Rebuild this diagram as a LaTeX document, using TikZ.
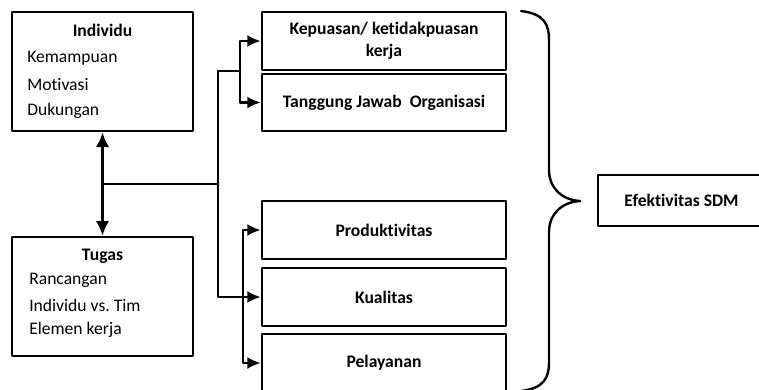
\documentclass[tikz,border=0pt]{standalone}
\usepackage{fontspec}
\setmainfont{Carlito}[Ligatures=NoCommon]
\usetikzlibrary{arrows.meta, positioning, calc}
\frenchspacing

\begin{document}
\begin{tikzpicture}[x=0.75pt, y=-0.75pt, line cap=round, line join=round,
    font=\fontsize{13.2}{16}\selectfont,
    kotak/.style={draw, line width=2pt, rectangle, inner sep=0pt, align=center, font=\fontsize{13.2}{16.5}\selectfont\bfseries},
    butir/.style={anchor=west, inner sep=0pt},
    garis/.style={line width=1.8pt},
    panah/.style={line width=1.8pt, -{Latex[length=10pt, width=9pt]}}]
      \clip (0,0) rectangle (759,389);

      % Kotak Individu
      \node[kotak, minimum width=181*0.75pt, minimum height=119*0.75pt] (individu) at (102.5,71.5) {};
      \node[font=\fontsize{13.2}{16}\selectfont\bfseries] (indhead) at (102.5,30) {Individu};
      \node[butir] (ind1) at (27,58) {Kemampuan};
      \node[butir] (ind2) at (27,85) {Motivasi};
      \node[butir] (ind3) at (27,111) {Dukungan};

      % Kotak Tugas
      \node[kotak, minimum width=181*0.75pt, minimum height=119*0.75pt] (tugas) at (102.5,296.5) {};
      \node[font=\fontsize{13.2}{16}\selectfont\bfseries] (tgshead) at (102.5,256) {Tugas};
      \node[butir] (tgs1) at (29,280) {Rancangan};
      \node[butir] (tgs2) at (29,305) {Individu vs. Tim};
      \node[butir] (tgs3) at (29,330) {Elemen kerja};

      % Kotak hasil
      \node[kotak, minimum width=244*0.75pt, minimum height=58*0.75pt] (kepuasan) at (384,41) {Kepuasan/ ketidakpuasan\\kerja};
      \node[kotak, minimum width=244*0.75pt, minimum height=57*0.75pt] (tanggung) at (384,102.5) {Tanggung Jawab\ \ Organisasi};
      \node[kotak, minimum width=244*0.75pt, minimum height=58*0.75pt] (produktif) at (384,230) {Produktivitas};
      \node[kotak, minimum width=244*0.75pt, minimum height=58*0.75pt] (kualitas) at (384,297) {Kualitas};
      \node[kotak, minimum width=244*0.75pt, minimum height=58*0.75pt] (pelayanan) at (384,363) {Pelayanan};

      % Efektivitas SDM
      \node[kotak, line width=1pt, minimum width=167*0.75pt, minimum height=51*0.75pt] (sdm) at (681.5,200.5) {Efektivitas SDM};

      % Titik cabang
      \coordinate (cab1) at (103,184);
      \coordinate (cab2) at (218,184);
      \coordinate (atas) at (218,71);
      \coordinate (cab3) at (240,71);
      \coordinate (cab4) at (243,297);

      % Hubungan
      \draw[panah, {Latex[length=11pt, width=10pt]}-{Latex[length=11pt, width=10pt]}] (individu.south) -- (tugas.north);
      \draw[garis] (cab1) -- (cab2);
      \draw[garis] (atas) -- (cab3);
      \draw[panah] (atas) |- (kualitas.west);
      \draw[panah] (cab3) |- (kepuasan.west);
      \draw[panah] (cab3) |- (tanggung.west);
      \draw[panah] (cab4) |- (produktif.west);
      \draw[panah] (cab4) |- (pelayanan.west);

      % Kurung kurawal
      \draw[line width=1.8pt] (521,11) .. controls (545,14) and (549,25) .. (549,40) -- (549,170)
        .. controls (549,188) and (562,200) .. (580,201)
        .. controls (562,202) and (549,214) .. (549,232) -- (549,362)
        .. controls (549,377) and (545,388) .. (521,391);
    \end{tikzpicture}
\end{document}
